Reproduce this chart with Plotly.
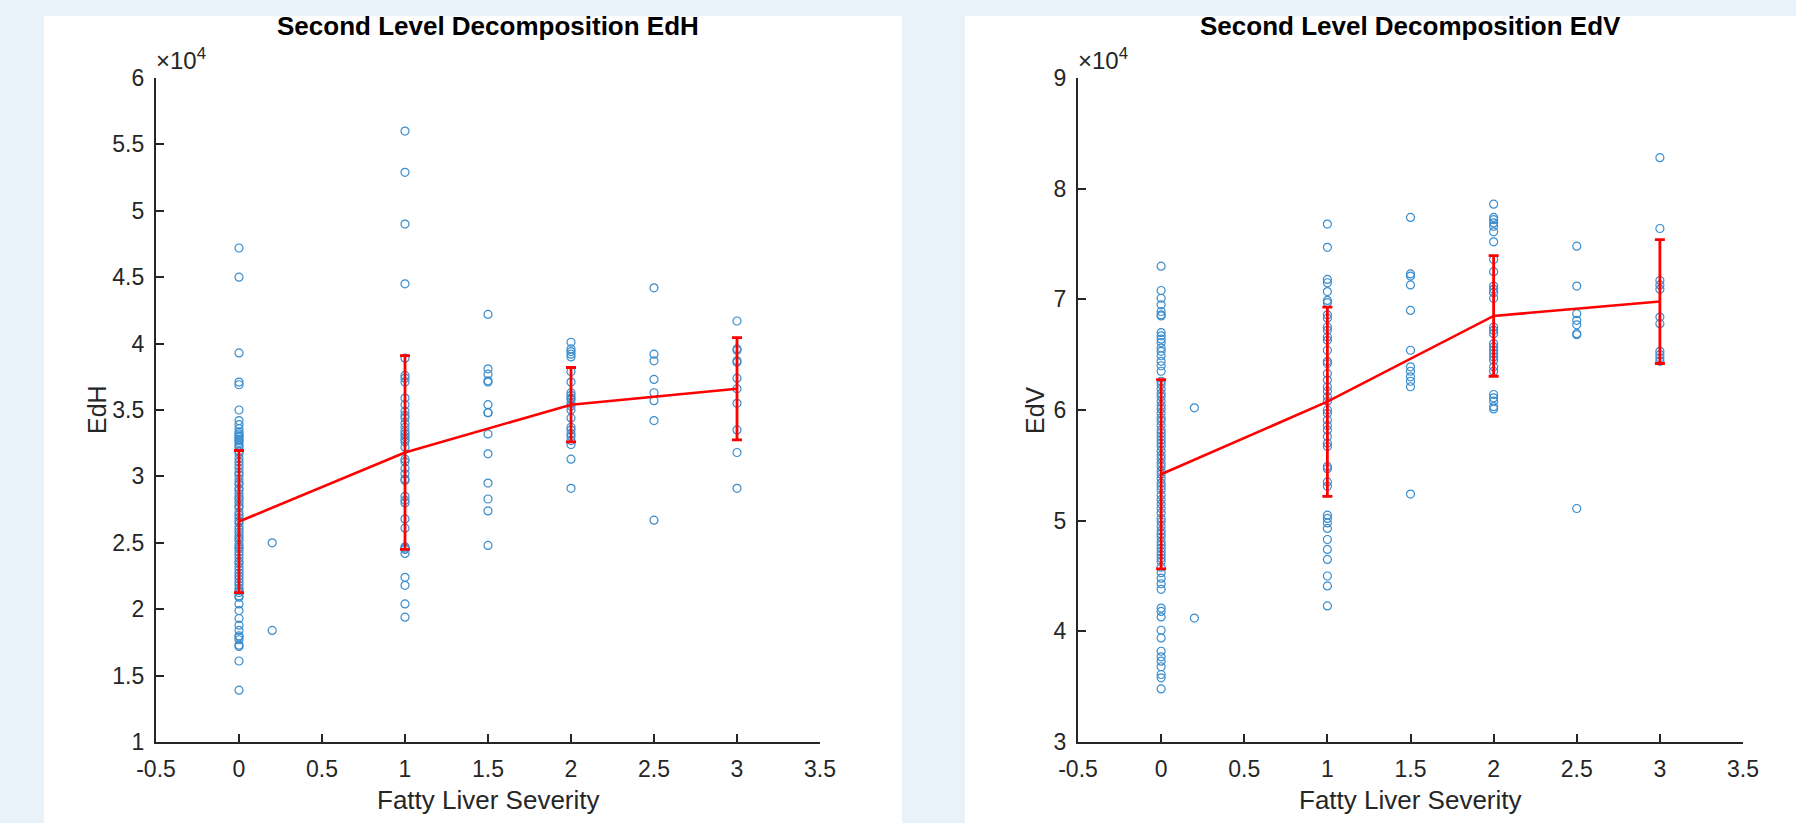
import plotly.graph_objects as go

W, H = 1796, 823

# ---------------- data (values in raw units) ----------------
severity_levels = [0, 0.2, 1, 1.5, 2, 2.5, 3]

edh_groups = [
    [47200, 45000, 39300, 37100, 36900, 35000, 34200, 33900, 33600, 33350, 33200, 33050,
     32950, 32800, 32700, 32550, 32350, 32200, 31900, 31700, 31350, 31100, 30850, 30600,
     30300, 30100, 29800, 29550, 29400, 29100, 28950, 28700, 28450, 28300, 28050, 27800,
     27650, 27300, 27100, 26900, 26650, 26500, 26200, 26000, 25800, 25550, 25350, 25200,
     24900, 24700, 24550, 24300, 24100, 23850, 23600, 23450, 23200, 22950, 22700, 22500,
     22300, 22050, 21850, 21600, 21400, 21250, 21000, 20900, 20400, 19900, 19300, 18800,
     18400, 18000, 17900, 17700, 17300, 17200, 16100, 13900],
    [25000, 18400],
    [56000, 52900, 49000, 44500, 38900, 37600, 37400, 37100, 35900, 35400, 34900, 34600,
     34400, 34000, 33700, 33400, 33200, 33000, 32800, 32600, 32200, 31300, 31100, 30600,
     30200, 29800, 29700, 28500, 28200, 28000, 26800, 26100, 24700, 24600, 24500, 24200,
     22400, 21800, 20400, 19400],
    [42200, 38100, 37700, 37200, 37100, 35400, 34800, 34800, 33200, 31700, 29500, 28300,
     27400, 24800],
    [40100, 39600, 39400, 39200, 39000, 37900, 37100, 36300, 36100, 35900, 35800, 35500,
     35300, 35000, 34400, 33700, 33500, 33200, 33000, 32700, 32400, 31300, 29100],
    [44200, 39200, 38700, 37300, 36300, 35700, 34200, 26700],
    [41700, 39600, 39500, 38700, 38600, 37400, 36600, 35500, 33500, 31800, 29100],
]

edv_groups = [
    [73000, 70800, 70100, 69500, 68900, 68600, 68500, 67000, 66700, 66400, 66100, 65600,
     65300, 64900, 64400, 64000, 63500, 62600, 62300, 61900, 61500, 61200, 60800, 60400,
     60100, 59700, 59300, 59000, 58600, 58200, 57900, 57600, 57300, 57000, 56700, 56300,
     55900, 55600, 55200, 54900, 54500, 54200, 53800, 53400, 53100, 52800, 52300, 51900,
     51500, 51100, 50700, 50200, 49900, 49500, 49100, 48800, 48500, 48100, 47800, 47500,
     47200, 46900, 46600, 46300, 45800, 45300, 44800, 44300, 43800, 42100, 41800, 41300,
     40100, 39400, 38200, 37700, 37300, 36800, 36100, 35800, 34800],
    [60200, 41200],
    [76800, 74700, 71800, 71500, 70700, 69900, 69700, 68600, 68300, 67500, 67200, 66600,
     66300, 65400, 64400, 64200, 63300, 62700, 62100, 61700, 61200, 60800, 60000, 59700,
     59100, 58600, 58200, 57600, 57000, 56700, 54900, 54700, 53500, 53100, 50500, 50200,
     49800, 49300, 48300, 47400, 46500, 45000, 44100, 42300],
    [77400, 72300, 72100, 71300, 69000, 65400, 63900, 63500, 63000, 62600, 62100, 52400],
    [78600, 77400, 77200, 76900, 76600, 76100, 75200, 73600, 72500, 71200, 70900, 70600,
     70100, 67500, 67200, 66900, 66000, 65700, 65400, 65100, 64800, 64500, 63900, 63500,
     61400, 61100, 60800, 60300, 60100],
    [74800, 71200, 68700, 68100, 67700, 66900, 66800, 51100],
    [82800, 76400, 71700, 71300, 70900, 68400, 67800, 65300, 65000, 64700, 64400],
]

mean_x = [0, 1, 2, 3]
edh_mean = [26600, 31800, 35400, 36600]
edh_err = [5350, 7300, 2800, 3850]
edv_mean = [54200, 60750, 68500, 69800]
edv_err = [8550, 8550, 5450, 5600]

x_ticks = [-0.5, 0, 0.5, 1, 1.5, 2, 2.5, 3, 3.5]
x_ticktext = ["-0.5", "0", "0.5", "1", "1.5", "2", "2.5", "3", "3.5"]
edh_ticks = [10000, 15000, 20000, 25000, 30000, 35000, 40000, 45000, 50000, 55000, 60000]
edh_ticktext = ["1", "1.5", "2", "2.5", "3", "3.5", "4", "4.5", "5", "5.5", "6"]
edv_ticks = [30000, 40000, 50000, 60000, 70000, 80000, 90000]
edv_ticktext = ["3", "4", "5", "6", "7", "8", "9"]

titles = ["Second Level Decomposition EdH", "Second Level Decomposition EdV"]
y_titles = ["EdH", "EdV"]
x_title = "Fatty Liver Severity"

# ---------------- layout helpers ----------------
def px(x):
    return x / W

def py(y):
    return 1 - y / H

FONT = "Liberation Sans, Arial, Helvetica, sans-serif"
AX = "#262626"
BLUE = "#3a8ecf"

left_dom = [px(156), px(820)]
right_dom = [px(1078), px(1743)]
y_dom = [py(742), py(78)]

fig = go.Figure()

def add_panel(groups, mean, err, xa, ya):
    xs, ys = [], []
    for lvl, vals in zip(severity_levels, groups):
        xs += [lvl] * len(vals)
        ys += vals
    fig.add_trace(go.Scatter(
        x=xs, y=ys, mode="markers", xaxis=xa, yaxis=ya, showlegend=False,
        marker=dict(symbol="circle-open", size=8, color=BLUE, line=dict(width=1.2, color=BLUE)),
        hoverinfo="skip"))
    fig.add_trace(go.Scatter(
        x=mean_x, y=mean, mode="lines", xaxis=xa, yaxis=ya, showlegend=False,
        line=dict(color="#ff0000", width=2.6),
        error_y=dict(type="data", array=err, visible=True, color="#ff0000",
                     thickness=2.8, width=5)))

add_panel(edh_groups, edh_mean, edh_err, "x", "y")
add_panel(edv_groups, edv_mean, edv_err, "x2", "y2")

xcommon = dict(range=[-0.5, 3.5], tickvals=x_ticks, ticktext=x_ticktext,
               showline=True, linewidth=2.2, linecolor=AX, ticks="inside", ticklen=8,
               tickwidth=1.5, tickcolor=AX, showgrid=False, zeroline=False,
               tickfont=dict(family=FONT, size=23, color=AX), ticklabelstandoff=5,
               fixedrange=True)
ycommon = dict(showline=True, linewidth=2.2, linecolor=AX, ticks="inside", ticklen=8,
               tickwidth=1.5, tickcolor=AX, showgrid=False, zeroline=False,
               tickfont=dict(family=FONT, size=23, color=AX), ticklabelstandoff=5,
               fixedrange=True)

fig.update_layout(
    width=W, height=H, autosize=False,
    margin=dict(l=0, r=0, t=0, b=0, pad=0, autoexpand=False),
    paper_bgcolor="#eaf2f9", plot_bgcolor="white",
    xaxis=dict(domain=left_dom, anchor="y", **xcommon),
    yaxis=dict(domain=y_dom, anchor="x", range=[10000, 60000], tickvals=edh_ticks,
               ticktext=edh_ticktext, **ycommon),
    xaxis2=dict(domain=right_dom, anchor="y2", **xcommon),
    yaxis2=dict(domain=y_dom, anchor="x2", range=[30000, 90000], tickvals=edv_ticks,
                ticktext=edv_ticktext, **ycommon),
    shapes=[
        dict(type="rect", xref="paper", yref="paper", x0=px(44), x1=px(902), y0=0, y1=py(16),
             fillcolor="white", line=dict(width=0), layer="below"),
        dict(type="rect", xref="paper", yref="paper", x0=px(965), x1=1, y0=0, y1=py(16),
             fillcolor="white", line=dict(width=0), layer="below"),
    ],
)

anns = []
for i, (dom, tt, yt, ytx) in enumerate([(left_dom, titles[0], y_titles[0], 97),
                                        (right_dom, titles[1], y_titles[1], 1035)]):
    cx = (dom[0] + dom[1]) / 2
    anns.append(dict(text="<b>" + tt + "</b>", x=cx, y=py(26), xref="paper", yref="paper",
                     showarrow=False, xanchor="center", yanchor="middle",
                     font=dict(family=FONT, size=26, color="black")))
    anns.append(dict(text=x_title, x=cx, y=py(800), xref="paper", yref="paper",
                     showarrow=False, xanchor="center", yanchor="middle",
                     font=dict(family=FONT, size=26, color=AX)))
    anns.append(dict(text=yt, x=px(ytx), y=py(410), xref="paper", yref="paper",
                     showarrow=False, xanchor="center", yanchor="middle", textangle=-90,
                     font=dict(family=FONT, size=25, color=AX)))
    anns.append(dict(text="\u00d710<sup>4</sup>", x=dom[0] - px(2), y=py(76), xref="paper",
                     yref="paper", showarrow=False, xanchor="left", yanchor="bottom",
                     font=dict(family=FONT, size=24, color=AX)))
fig.update_layout(annotations=anns)

fig.write_html("out.html")
